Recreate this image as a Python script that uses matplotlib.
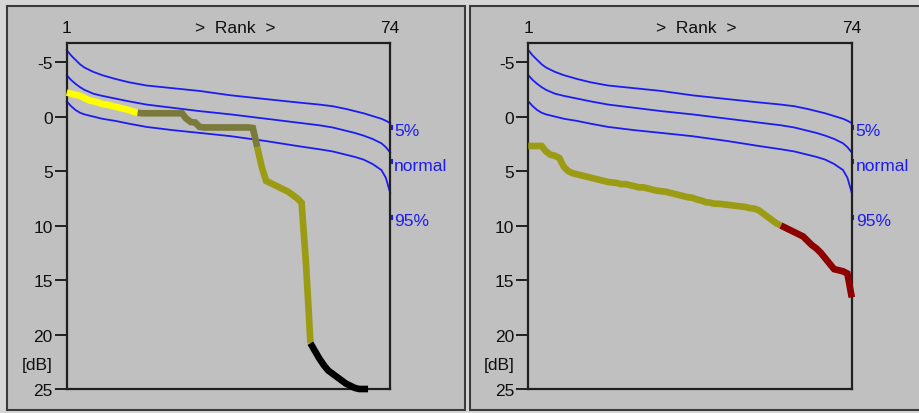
import matplotlib
matplotlib.use("Agg")
import matplotlib.pyplot as plt
from matplotlib.patches import Rectangle
from matplotlib.transforms import blended_transform_factory

# ---------------- data ----------------
n_ranks = 74
y_ticks = [-5, 0, 5, 10, 15, 20, 25]

# reference percentile curves (rank -> dB)
ref_ranks = [1, 2, 3, 4, 5, 7, 9, 12, 15, 19, 25, 31, 38, 46, 53, 58, 61, 64, 66, 68, 70, 72, 73, 74]
p5 = [-6.1, -5.6, -5.2, -4.8, -4.5, -4.1, -3.8, -3.45, -3.15, -2.85, -2.6, -2.35, -1.95, -1.6,
      -1.3, -1.1, -0.95, -0.7, -0.5, -0.3, -0.05, 0.2, 0.38, 0.6]
normal = [-3.8, -3.35, -3.0, -2.7, -2.45, -2.1, -1.9, -1.65, -1.4, -1.1, -0.8, -0.5, -0.2, 0.2,
          0.55, 0.8, 1.0, 1.3, 1.5, 1.75, 2.05, 2.45, 2.8, 3.3]
p95 = [-1.4, -0.95, -0.6, -0.35, -0.2, 0.0, 0.2, 0.4, 0.65, 0.95, 1.25, 1.5, 1.8, 2.25,
       2.7, 3.0, 3.2, 3.5, 3.7, 3.95, 4.35, 4.9, 5.6, 7.0]
curve_labels = ["5%", "normal", "95%"]
curve_label_y = [1.3, 4.45, 9.55]

# left panel: defect values per rank (1..69)
left_vals = [-2.2, -2.1, -2.0, -1.9, -1.7, -1.5, -1.4, -1.3, -1.15, -1.1, -1.0, -0.9, -0.8,
             -0.7, -0.6, -0.45, -0.35,
             -0.3, -0.3, -0.3, -0.3, -0.3, -0.3, -0.3, -0.3, -0.3,
             -0.3, 0.2, 0.5, 0.55, 0.95,
             1.0, 1.0, 1.0, 1.0, 1.0, 1.0, 1.0, 1.0, 1.0, 1.0, 1.0, 1.05,
             2.8, 4.6, 5.9, 6.1, 6.3, 6.5, 6.7, 6.9, 7.2, 7.5, 7.9, 13.5, 20.8,
             21.5, 22.2, 22.8, 23.3, 23.6, 23.9, 24.2, 24.5, 24.7, 24.9, 25.0, 25.0, 25.0]
left_breaks = [1, 17, 44, 56, 69]
left_colors = ["#ffff00", "#7a7a3c", "#9c9c14", "#000000"]

# right panel: defect values per rank (1..74)
right_vals = [2.7, 2.7, 2.7, 2.7, 3.2, 3.5, 3.6, 3.8, 4.6, 5.0, 5.2, 5.3, 5.4, 5.5, 5.6,
              5.7, 5.8, 5.9, 6.0, 6.05, 6.1, 6.2, 6.2, 6.3, 6.4, 6.5, 6.5, 6.6, 6.7, 6.8,
              6.85, 6.9, 7.0, 7.1, 7.2, 7.3, 7.4, 7.45, 7.6, 7.7, 7.85, 7.9, 8.0, 8.0,
              8.05, 8.1, 8.15, 8.2, 8.25, 8.3, 8.4, 8.45, 8.6, 8.9, 9.2, 9.5, 9.8, 10.0,
              10.2, 10.4, 10.6, 10.8, 11.0, 11.4, 11.8, 12.1, 12.5, 13.0, 13.5, 14.0,
              14.1, 14.2, 14.4, 16.6]
right_breaks = [1, 58, 74]
right_colors = ["#9c9c14", "#8e0000"]

# ---------------- style ----------------
FONT = "Liberation Sans"
BG_OUT = "#d6d6d6"
BG_PANEL = "#c0c0c0"
BLUE = "#1c1cf2"
TXT = "#101010"
W, H = 920, 414

fig = plt.figure(figsize=(W / 100, H / 100), dpi=100, facecolor=BG_OUT)


def px_rect(x0, y0, x1, y1):
    return Rectangle((x0 / W, 1 - y1 / H), (x1 - x0) / W, (y1 - y0) / H,
                     transform=fig.transFigure, facecolor=BG_PANEL,
                     edgecolor="#3a3a3a", lw=1.5, zorder=0)


fig.add_artist(px_rect(7, 7, 465, 411))
fig.add_artist(px_rect(470, 7, 935, 411))


def make_panel(left_px, vals, breaks, colors):
    ax = fig.add_axes([left_px / W, (H - 390) / H, 323.5 / W, 346 / H])
    ax.set_facecolor(BG_PANEL)
    ax.set_xlim(1, n_ranks)
    ax.set_ylim(25, -6.75)
    for s in ax.spines.values():
        s.set_color("#202020")
        s.set_linewidth(1.6)
    ax.set_xticks([])
    ax.set_yticks(y_ticks)
    ax.set_yticklabels([str(t) for t in y_ticks], fontfamily=FONT, fontsize=12.5, color=TXT)
    ax.tick_params(axis="y", direction="out", length=8.5, width=1.4, pad=1.5, color="#202020")

    # percentile curves
    for curve in (p5, normal, p95):
        ax.plot(ref_ranks, curve, color=BLUE, lw=1.3, zorder=2, clip_on=False)
    for lab, yv in zip(curve_labels, curve_label_y):
        ax.text(1.012, yv, lab, transform=blended_transform_factory(ax.transAxes, ax.transData),
                color=BLUE, fontfamily=FONT, fontsize=12.5, ha="left", va="center")
        ax.plot([n_ranks + 0.3, n_ranks + 0.3], [yv - 0.45, yv - 0.15], color=BLUE,
                lw=1.5, clip_on=False)

    # defect curve, split by colour
    ranks = list(range(1, len(vals) + 1))
    for i, c in enumerate(colors):
        a, b = breaks[i], breaks[i + 1]
        ax.plot(ranks[a - 1:b], vals[a - 1:b], color=c, lw=4.8, zorder=3,
                solid_capstyle="butt", solid_joinstyle="miter", clip_on=False)

    # top labels
    ax.text(1, 1.022, "1", transform=blended_transform_factory(ax.transData, ax.transAxes),
            fontfamily=FONT, fontsize=12.5, ha="center", va="bottom", color=TXT)
    ax.text(n_ranks, 1.022, "74", transform=blended_transform_factory(ax.transData, ax.transAxes),
            fontfamily=FONT, fontsize=12.5, ha="center", va="bottom", color=TXT)
    ax.text(0.52, 1.022, ">  Rank  >", transform=ax.transAxes,
            fontfamily=FONT, fontsize=12.5, ha="center", va="bottom", color=TXT)
    ax.text(-0.09, 22.75, "[dB]", transform=blended_transform_factory(ax.transAxes, ax.transData),
            fontfamily=FONT, fontsize=12.5, ha="center", va="center", color=TXT)
    return ax


make_panel(66.7, left_vals, left_breaks, left_colors)
make_panel(528.3, right_vals, right_breaks, right_colors)

fig.savefig("out.png", dpi=100, facecolor=fig.get_facecolor())
